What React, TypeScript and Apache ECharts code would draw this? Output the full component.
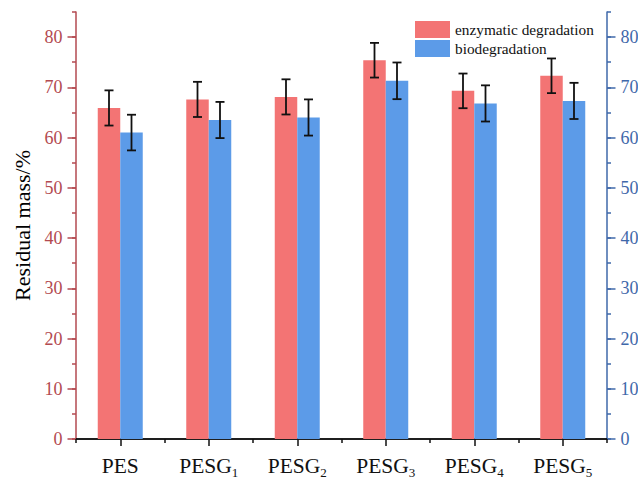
import React, { useEffect, useRef } from "react";
import * as echarts from "echarts";

const categories = ["PES", "PESG1", "PESG2", "PESG3", "PESG4", "PESG5"];
const enzymatic = [65.9, 67.6, 68.1, 75.4, 69.3, 72.3];
const enzymaticErr = [3.5, 3.5, 3.5, 3.45, 3.45, 3.45];
const bio = [61.0, 63.5, 64.0, 71.3, 66.8, 67.3];
const bioErr = [3.55, 3.6, 3.6, 3.65, 3.6, 3.6];
const yTicks = [0, 10, 20, 30, 40, 50, 60, 70, 80];
const seriesNames = ["enzymatic degradation", "biodegradation"];

const RED = "#F37474";
const BLUE = "#5C9BE8";
const LEFT_AXIS = "#B34A50";
const RIGHT_AXIS = "#3F68AA";
const FONT = "Liberation Serif";
const BAR_W = 22.5;

function errorSeries(values: number[], errs: number[], side: number) {
  return {
    type: "custom",
    xAxisIndex: 0,
    yAxisIndex: 0,
    silent: true,
    z: 5,
    data: values.map((v, i) => [i, v - errs[i], v + errs[i]]),
    renderItem: (_params: any, api: any) => {
      const top = api.coord([api.value(0), api.value(2)]);
      const bot = api.coord([api.value(0), api.value(1)]);
      const x = top[0] + (side * BAR_W) / 2;
      const cap = 4.5;
      const style = { stroke: "#111", lineWidth: 1.8 };
      return {
        type: "group",
        children: [
          { type: "line", shape: { x1: x, y1: top[1], x2: x, y2: bot[1] }, style },
          { type: "line", shape: { x1: x - cap, y1: top[1], x2: x + cap, y2: top[1] }, style },
          { type: "line", shape: { x1: x - cap, y1: bot[1], x2: x + cap, y2: bot[1] }, style },
        ],
      };
    },
  };
}

function valueAxis(position: string, color: string, withName: boolean) {
  return {
    type: "value",
    position,
    min: 0,
    max: 85,
    interval: 10,
    name: withName ? "Residual mass/%" : "",
    nameLocation: "middle",
    nameGap: 40,
    nameTextStyle: { color: "#000", fontSize: 22, fontFamily: FONT },
    axisLine: { show: true, lineStyle: { color, width: 1.5 } },
    axisTick: { show: true, length: 8.5, customValues: yTicks, lineStyle: { color, width: 1.5 } },
    axisLabel: {
      color,
      fontSize: 18,
      fontFamily: FONT,
      margin: 13.5,
      showMaxLabel: false,
      formatter: (v: number) => (v % 10 === 0 ? String(v) : ""),
    },
    splitLine: { show: false },
  };
}

function minorAxis(position: string, color: string) {
  return {
    type: "value",
    position,
    min: 0,
    max: 85,
    interval: 5,
    axisLine: { show: false },
    axisTick: { show: true, length: 4, lineStyle: { color, width: 1.5 } },
    axisLabel: { show: false },
    splitLine: { show: false },
  };
}

export default function App() {
  const ref = useRef<HTMLDivElement>(null);

  useEffect(() => {
    if (!ref.current) return;
    const chart = echarts.init(ref.current, null, { renderer: "svg" });
    chart.setOption({
      animation: false,
      backgroundColor: "#fff",
      grid: { left: 76, right: 31, top: 12, bottom: 40, outerBoundsMode: "none" },
      legend: {
        orient: "vertical",
        left: 410,
        top: 16,
        itemWidth: 35,
        itemHeight: 17,
        itemGap: 2,
        icon: "rect",
        data: seriesNames,
        textStyle: { color: "#111", fontSize: 15.3, fontFamily: FONT },
      },
      xAxis: [
        {
          type: "category",
          data: categories,
          position: "bottom",
          axisLine: { show: true, lineStyle: { color: "#111", width: 1.5 } },
          axisTick: { show: true, alignWithLabel: true, length: 7, lineStyle: { color: "#111", width: 1.5 } },
          axisLabel: {
            interval: 0,
            margin: 16,
            color: "#111",
            formatter: (v: string) => {
              const m = v.match(/^(\D+)(\d+)$/);
              return m ? `{b|${m[1]}}{s|${m[2]}}` : `{b|${v}}`;
            },
            rich: {
              b: { fontSize: 21.5, fontFamily: FONT, color: "#111", verticalAlign: "top", lineHeight: 22 },
              s: {
                fontSize: 13,
                fontFamily: FONT,
                color: "#111",
                verticalAlign: "top",
                lineHeight: 13,
                padding: [11, 0, 0, 0],
              },
            },
          },
        },
        {
          type: "category",
          data: categories,
          position: "bottom",
          axisLine: { show: false },
          axisTick: { show: true, length: 4, lineStyle: { color: "#111", width: 1.5 } },
          axisLabel: { show: false },
        },
        {
          type: "category",
          data: categories,
          position: "top",
          axisLine: { show: true, lineStyle: { color: "#111", width: 1.5 } },
          axisTick: { show: false },
          axisLabel: { show: false },
        },
      ],
      yAxis: [
        valueAxis("left", LEFT_AXIS, true),
        minorAxis("left", LEFT_AXIS),
        valueAxis("right", RIGHT_AXIS, false),
        minorAxis("right", RIGHT_AXIS),
      ],
      series: [
        {
          name: seriesNames[0],
          type: "bar",
          data: enzymatic,
          barWidth: BAR_W,
          barGap: "0%",
          itemStyle: { color: RED },
        },
        {
          name: seriesNames[1],
          type: "bar",
          data: bio,
          barWidth: BAR_W,
          barGap: "0%",
          itemStyle: { color: BLUE },
        },
        errorSeries(enzymatic, enzymaticErr, -1),
        errorSeries(bio, bioErr, 1),
      ],
    });
    return () => chart.dispose();
  }, []);

  return (
    <div
      ref={ref}
      style={{ position: "fixed", left: 0, top: 0, width: 638, height: 479 }}
    />
  );
}
